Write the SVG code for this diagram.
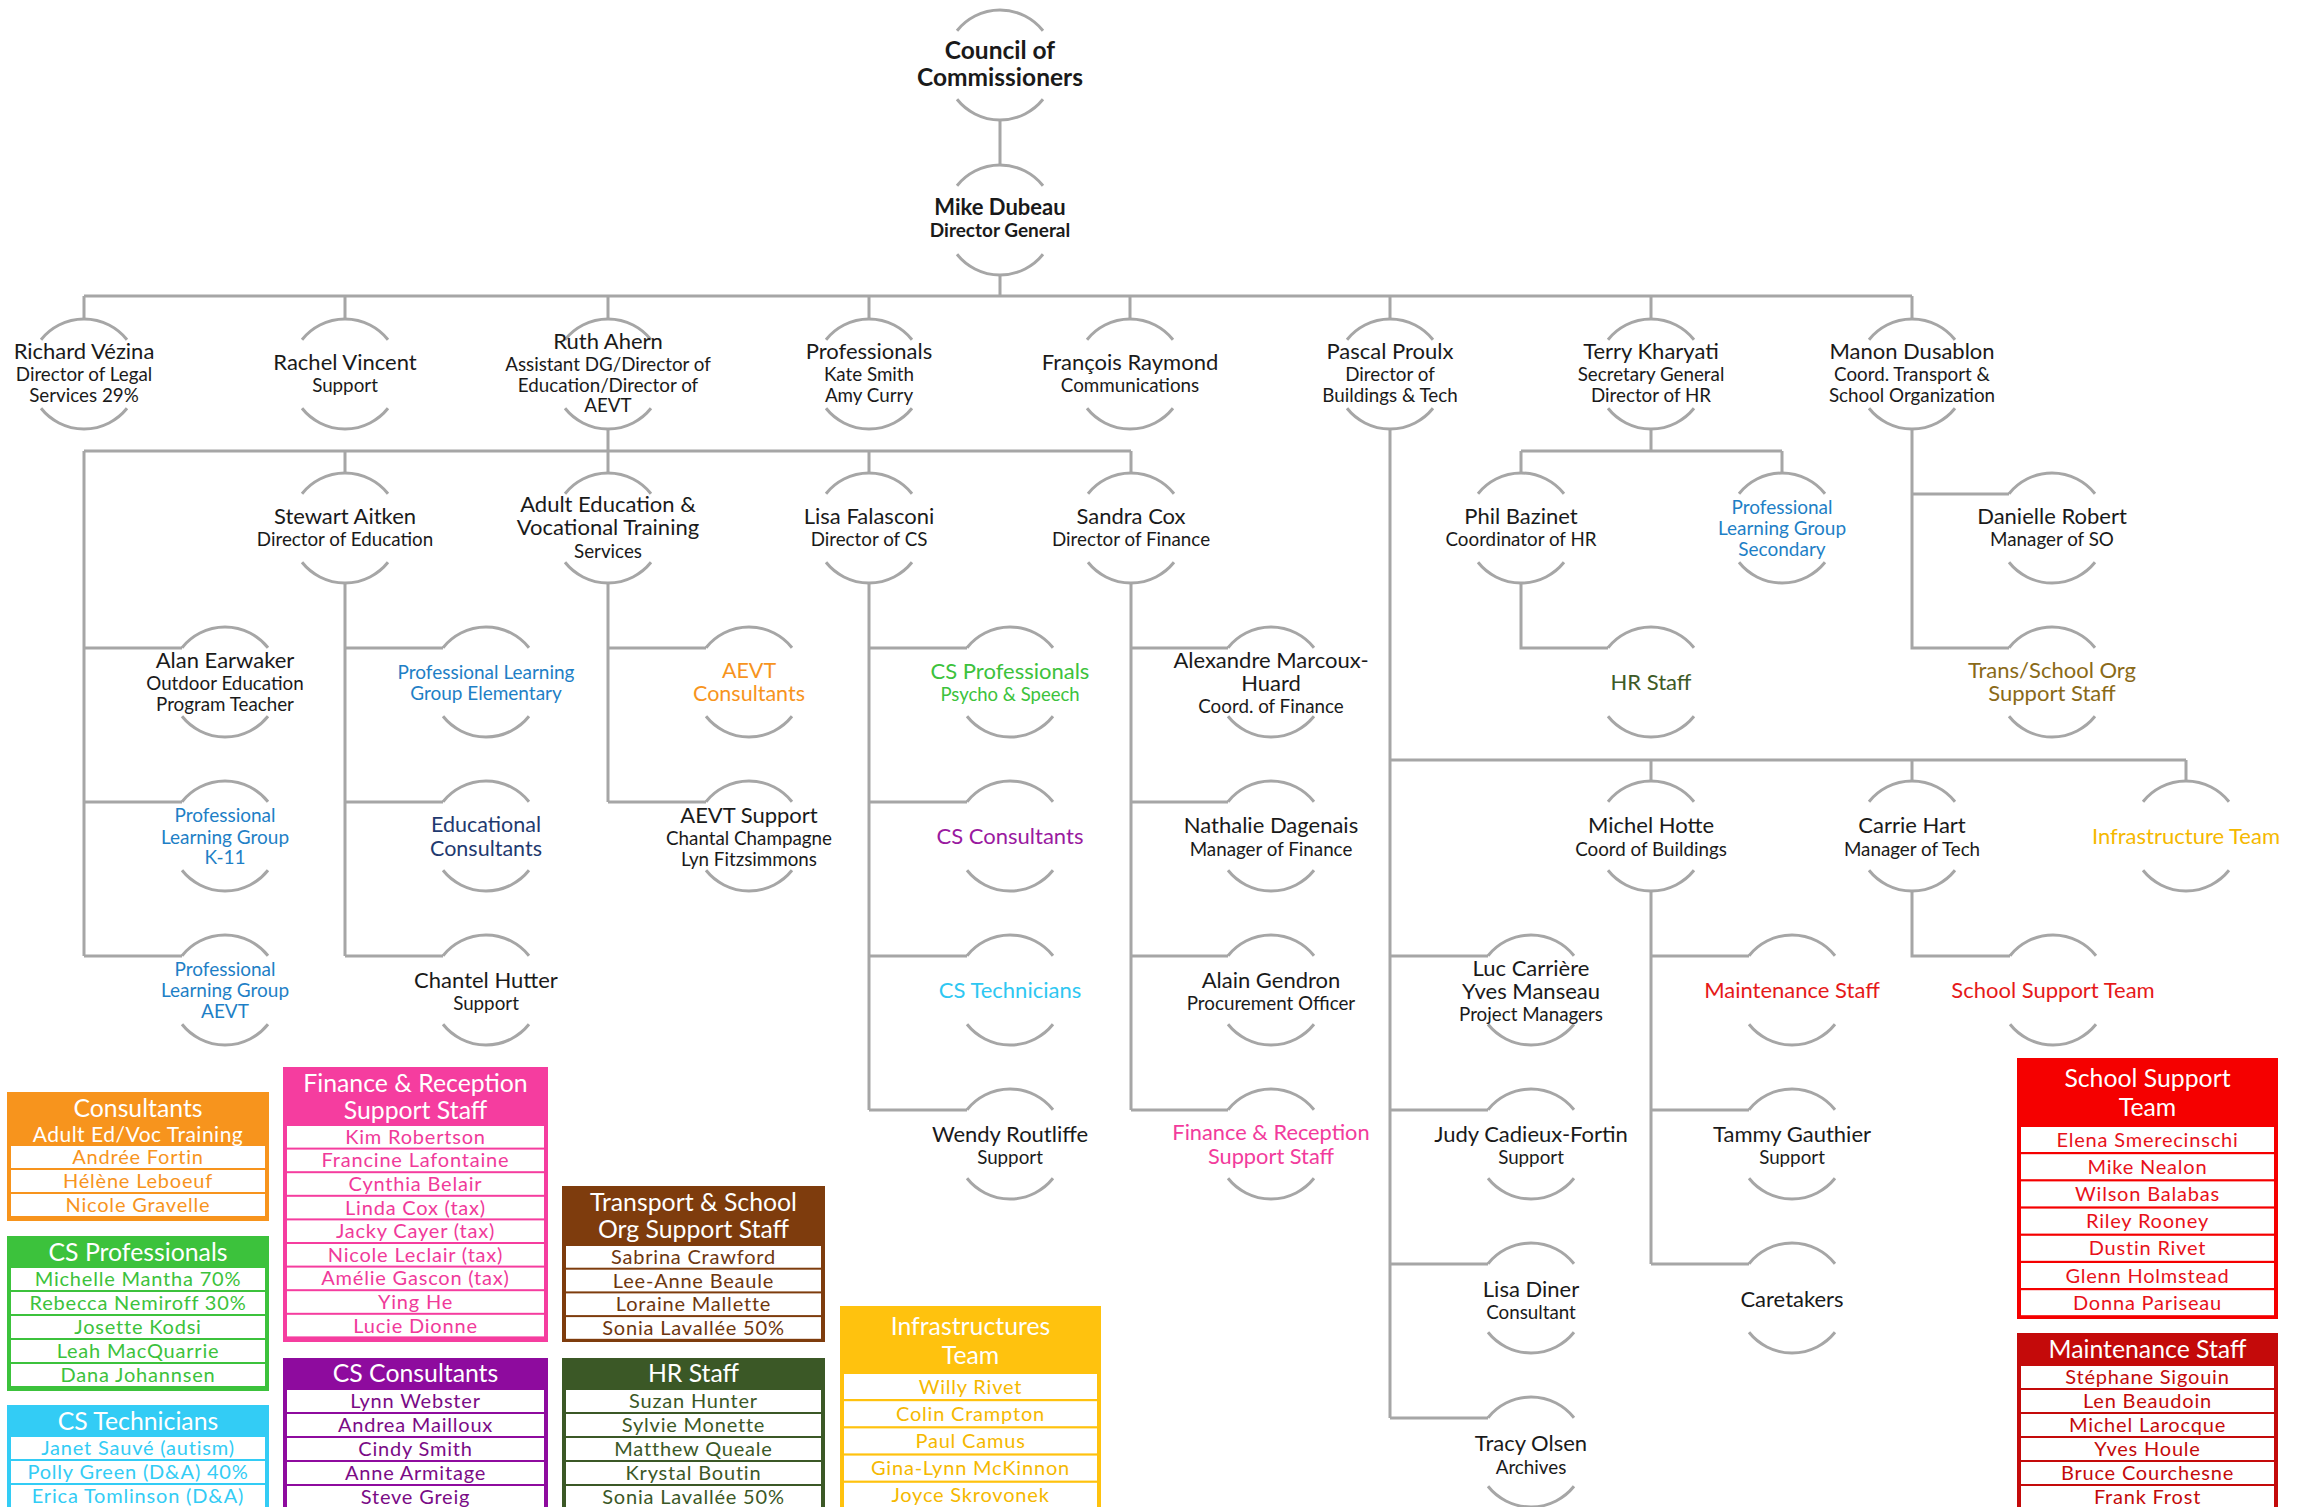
<svg xmlns="http://www.w3.org/2000/svg" width="2302" height="1507" viewBox="0 0 2302 1507">
<style>
.ln{fill:none;stroke:#a6a6a6;stroke-width:3}
text{font-family:Lato,"Open Sans","Liberation Sans",sans-serif;text-anchor:middle;fill:#1a1a1a}
.n{font-size:22px}
.s{font-size:18.8px}
.b1{font-size:24.5px;font-weight:bold}
.b2{font-size:22px;font-weight:bold}
.b3{font-size:19px;font-weight:bold}
.blue{fill:#1e7fc6;font-size:19px}
.navy{fill:#1f3a70;font-size:21.5px}
.orange{fill:#f7941d;font-size:21.5px}
.green{fill:#3cc23c}
.purple{fill:#9a1aa0;font-size:22px}
.cyan{fill:#2ec7f2;font-size:22px}
.pink{fill:#f23b9c;font-size:21.8px}
.hrg{fill:#3d5a27;font-size:22px}
.olive{fill:#8a6a18;font-size:22px}
.yellow{fill:#f5b800;font-size:22px}
.red{fill:#e61919;font-size:22px}
.hd{fill:#fff;font-size:24.8px}
.hd2{fill:#fff;font-size:21px;letter-spacing:0.5px}
.row{fill:#fff}
.r{font-size:20px;letter-spacing:0.8px}
</style>
<defs>
<path id="ring" class="ln" d="M-43,-34.3 A55,55 0 0 1 43,-34.3 M-43,34.3 A55,55 0 0 0 43,34.3"/>
</defs>

<g id="connectors" class="ln">
<path d="M1000 120V165M1000 275V296M84 296H1912"/>
<path d="M84 296V319M345 296V319M608 296V319M869 296V319M1130 296V319M1390 296V319M1651 296V319M1912 296V319"/>
<path d="M608 429V451M84 451H1131M345 451V473M608 451V473M869 451V473M1131 451V473"/>
<path d="M84 451V956M84 648H182M84 802H182M84 956H182"/>
<path d="M345 583V956M345 648H443M345 802H443M345 956H443"/>
<path d="M608 583V802M608 648H706M608 802H706"/>
<path d="M869 583V1110M869 648H967M869 802H967M869 956H967M869 1110H967"/>
<path d="M1131 583V1110M1131 648H1228M1131 802H1228M1131 956H1228M1131 1110H1228"/>
<path d="M1651 429V451M1521 451H1782M1521 451V473M1782 451V473"/>
<path d="M1521 583V648H1608"/>
<path d="M1912 429V648H2009M1912 494H2009"/>
<path d="M1390 429V1418M1390 760H2186M1651 760V781M1912 760V781M2186 760V781"/>
<path d="M1390 956H1488M1390 1110H1488M1390 1264H1488M1390 1418H1488"/>
<path d="M1651 891V1264M1651 956H1749M1651 1110H1749M1651 1264H1749"/>
<path d="M1912 891V956H2010"/>
</g>

<g id="n-council"><use href="#ring" x="1000" y="65"/><text class="b1" x="1000" y="59">Council of</text><text class="b1" x="1000" y="86">Commissioners</text></g>
<g id="n-mike"><use href="#ring" x="1000" y="220"/><text class="b2" x="1000" y="215">Mike Dubeau</text><text class="b3" x="1000" y="237">Director General</text></g>

<g id="n-richard"><use href="#ring" x="84" y="374"/><text class="n" x="84" y="359">Richard Vézina</text><text class="s" x="84" y="381">Director of Legal</text><text class="s" x="84" y="402">Services 29%</text></g>
<g id="n-rachel"><use href="#ring" x="345" y="374"/><text class="n" x="345" y="370">Rachel Vincent</text><text class="s" x="345" y="392">Support</text></g>
<g id="n-ruth"><use href="#ring" x="608" y="374"/><text class="n" x="608" y="349">Ruth Ahern</text><text class="s" x="608" y="371">Assistant DG/Director of</text><text class="s" x="608" y="392">Education/Director of</text><text class="s" x="608" y="412">AEVT</text></g>
<g id="n-professionals"><use href="#ring" x="869" y="374"/><text class="n" x="869" y="359">Professionals</text><text class="s" x="869" y="381">Kate Smith</text><text class="s" x="869" y="402">Amy Curry</text></g>
<g id="n-francois"><use href="#ring" x="1130" y="374"/><text class="n" x="1130" y="370">François Raymond</text><text class="s" x="1130" y="392">Communications</text></g>
<g id="n-pascal"><use href="#ring" x="1390" y="374"/><text class="n" x="1390" y="359">Pascal Proulx</text><text class="s" x="1390" y="381">Director of</text><text class="s" x="1390" y="402">Buildings &amp; Tech</text></g>
<g id="n-terry"><use href="#ring" x="1651" y="374"/><text class="n" x="1651" y="359">Terry Kharyati</text><text class="s" x="1651" y="381">Secretary General</text><text class="s" x="1651" y="402">Director of HR</text></g>
<g id="n-manon"><use href="#ring" x="1912" y="374"/><text class="n" x="1912" y="359">Manon Dusablon</text><text class="s" x="1912" y="381">Coord. Transport &amp;</text><text class="s" x="1912" y="402">School Organization</text></g>

<g id="n-stewart"><use href="#ring" x="345" y="528"/><text class="n" x="345" y="524">Stewart Aitken</text><text class="s" x="345" y="546">Director of Education</text></g>
<g id="n-adulted"><use href="#ring" x="608" y="528"/><text class="n" x="608" y="512">Adult Education &amp;</text><text class="n" x="608" y="535">Vocational Training</text><text class="s" x="608" y="558">Services</text></g>
<g id="n-lisaf"><use href="#ring" x="869" y="528"/><text class="n" x="869" y="524">Lisa Falasconi</text><text class="s" x="869" y="546">Director of CS</text></g>
<g id="n-sandra"><use href="#ring" x="1131" y="528"/><text class="n" x="1131" y="524">Sandra Cox</text><text class="s" x="1131" y="546">Director of Finance</text></g>
<g id="n-phil"><use href="#ring" x="1521" y="528"/><text class="n" x="1521" y="524">Phil Bazinet</text><text class="s" x="1521" y="546">Coordinator of HR</text></g>
<g id="n-plgsec"><use href="#ring" x="1782" y="528"/><text class="blue" x="1782" y="514">Professional</text><text class="blue" x="1782" y="535">Learning Group</text><text class="blue" x="1782" y="556">Secondary</text></g>
<g id="n-danielle"><use href="#ring" x="2052" y="528"/><text class="n" x="2052" y="524">Danielle Robert</text><text class="s" x="2052" y="546">Manager of SO</text></g>

<g id="n-alan"><use href="#ring" x="225" y="682"/><text class="n" x="225" y="668">Alan Earwaker</text><text class="s" x="225" y="690">Outdoor Education</text><text class="s" x="225" y="711">Program Teacher</text></g>
<g id="n-plgelem"><use href="#ring" x="486" y="682"/><text class="blue" x="486" y="679">Professional Learning</text><text class="blue" x="486" y="700">Group Elementary</text></g>
<g id="n-aevtcons"><use href="#ring" x="749" y="682"/><text class="orange" x="749" y="678">AEVT</text><text class="orange" x="749" y="701">Consultants</text></g>
<g id="n-csprof"><use href="#ring" x="1010" y="682"/><text class="green" style="font-size:22px" x="1010" y="679">CS Professionals</text><text class="green" style="font-size:18.5px" x="1010" y="701">Psycho &amp; Speech</text></g>
<g id="n-alexandre"><use href="#ring" x="1271" y="682"/><text class="n" x="1271" y="668">Alexandre Marcoux-</text><text class="n" x="1271" y="691">Huard</text><text class="s" x="1271" y="713">Coord. of Finance</text></g>
<g id="n-hrstaff"><use href="#ring" x="1651" y="682"/><text class="hrg" x="1651" y="690">HR Staff</text></g>
<g id="n-transorg"><use href="#ring" x="2052" y="682"/><text class="olive" x="2052" y="678">Trans/School Org</text><text class="olive" x="2052" y="701">Support Staff</text></g>

<g id="n-plgk11"><use href="#ring" x="225" y="836"/><text class="blue" x="225" y="822">Professional</text><text class="blue" x="225" y="844">Learning Group</text><text class="blue" x="225" y="864">K-11</text></g>
<g id="n-edcons"><use href="#ring" x="486" y="836"/><text class="navy" x="486" y="832">Educational</text><text class="navy" x="486" y="856">Consultants</text></g>
<g id="n-aevtsup"><use href="#ring" x="749" y="836"/><text class="n" x="749" y="823">AEVT Support</text><text class="s" x="749" y="845">Chantal Champagne</text><text class="s" x="749" y="866">Lyn Fitzsimmons</text></g>
<g id="n-cscons"><use href="#ring" x="1010" y="836"/><text class="purple" x="1010" y="844">CS Consultants</text></g>
<g id="n-nathalie"><use href="#ring" x="1271" y="836"/><text class="n" x="1271" y="833">Nathalie Dagenais</text><text class="s" x="1271" y="856">Manager of Finance</text></g>
<g id="n-michel"><use href="#ring" x="1651" y="836"/><text class="n" x="1651" y="833">Michel Hotte</text><text class="s" x="1651" y="856">Coord of Buildings</text></g>
<g id="n-carrie"><use href="#ring" x="1912" y="836"/><text class="n" x="1912" y="833">Carrie Hart</text><text class="s" x="1912" y="856">Manager of Tech</text></g>
<g id="n-infra"><use href="#ring" x="2186" y="836"/><text class="yellow" x="2186" y="844">Infrastructure Team</text></g>

<g id="n-plgaevt"><use href="#ring" x="225" y="990"/><text class="blue" x="225" y="976">Professional</text><text class="blue" x="225" y="997">Learning Group</text><text class="blue" x="225" y="1018">AEVT</text></g>
<g id="n-chantel"><use href="#ring" x="486" y="990"/><text class="n" x="486" y="988">Chantel Hutter</text><text class="s" x="486" y="1010">Support</text></g>
<g id="n-cstech"><use href="#ring" x="1010" y="990"/><text class="cyan" x="1010" y="998">CS Technicians</text></g>
<g id="n-alain"><use href="#ring" x="1271" y="990"/><text class="n" x="1271" y="988">Alain Gendron</text><text class="s" x="1271" y="1010">Procurement Officer</text></g>
<g id="n-luc"><use href="#ring" x="1531" y="990"/><text class="n" x="1531" y="976">Luc Carrière</text><text class="n" x="1531" y="999">Yves Manseau</text><text class="s" x="1531" y="1021">Project Managers</text></g>
<g id="n-maint"><use href="#ring" x="1792" y="990"/><text class="red" x="1792" y="998">Maintenance Staff</text></g>
<g id="n-sst"><use href="#ring" x="2053" y="990"/><text class="red" x="2053" y="998">School Support Team</text></g>

<g id="n-wendy"><use href="#ring" x="1010" y="1144"/><text class="n" x="1010" y="1142">Wendy Routliffe</text><text class="s" x="1010" y="1164">Support</text></g>
<g id="n-finrec"><use href="#ring" x="1271" y="1144"/><text class="pink" x="1271" y="1140">Finance &amp; Reception</text><text class="pink" x="1271" y="1164">Support Staff</text></g>
<g id="n-judy"><use href="#ring" x="1531" y="1144"/><text class="n" x="1531" y="1142">Judy Cadieux-Fortin</text><text class="s" x="1531" y="1164">Support</text></g>
<g id="n-tammy"><use href="#ring" x="1792" y="1144"/><text class="n" x="1792" y="1142">Tammy Gauthier</text><text class="s" x="1792" y="1164">Support</text></g>

<g id="n-lisad"><use href="#ring" x="1531" y="1298"/><text class="n" x="1531" y="1297">Lisa Diner</text><text class="s" x="1531" y="1319">Consultant</text></g>
<g id="n-caretakers"><use href="#ring" x="1792" y="1298"/><text class="n" x="1792" y="1307">Caretakers</text></g>
<g id="n-tracy"><use href="#ring" x="1531" y="1452"/><text class="n" x="1531" y="1451">Tracy Olsen</text><text class="s" x="1531" y="1474">Archives</text></g>

<g id="box-consultants">
<rect x="7" y="1092" width="262" height="129" fill="#f7941d"/>
<text class="hd" x="138" y="1117">Consultants</text>
<text class="hd2" x="138" y="1142">Adult Ed/Voc Training</text>
<rect class="row" x="11" y="1146" width="254" height="22"/><rect class="row" x="11" y="1170" width="254" height="22"/><rect class="row" x="11" y="1194" width="254" height="22"/>
<text class="r" style="fill:#f7941d" x="138" y="1164">Andrée Fortin</text><text class="r" style="fill:#f7941d" x="138" y="1188">Hélène Leboeuf</text><text class="r" style="fill:#f7941d" x="138" y="1212">Nicole Gravelle</text>
</g>

<g id="box-csprof">
<rect x="7" y="1236" width="262" height="155" fill="#3cc23c"/>
<text class="hd" x="138" y="1261">CS Professionals</text>
<rect class="row" x="11" y="1268" width="254" height="22"/><rect class="row" x="11" y="1292" width="254" height="22"/><rect class="row" x="11" y="1316" width="254" height="22"/><rect class="row" x="11" y="1340" width="254" height="22"/><rect class="row" x="11" y="1364" width="254" height="22"/>
<text class="r" style="fill:#3cc23c" x="138" y="1286">Michelle Mantha 70%</text><text class="r" style="fill:#3cc23c" x="138" y="1310">Rebecca Nemiroff 30%</text><text class="r" style="fill:#3cc23c" x="138" y="1334">Josette Kodsi</text><text class="r" style="fill:#3cc23c" x="138" y="1358">Leah MacQuarrie</text><text class="r" style="fill:#3cc23c" x="138" y="1382">Dana Johannsen</text>
</g>

<g id="box-cstech">
<rect x="7" y="1405" width="262" height="115" fill="#33ccf5"/>
<text class="hd" x="138" y="1430">CS Technicians</text>
<rect class="row" x="11" y="1437" width="254" height="22"/><rect class="row" x="11" y="1461" width="254" height="22"/><rect class="row" x="11" y="1485" width="254" height="30"/>
<text class="r" style="fill:#33ccf5" x="138" y="1455">Janet Sauvé (autism)</text><text class="r" style="fill:#33ccf5" x="138" y="1479">Polly Green (D&amp;A) 40%</text><text class="r" style="fill:#33ccf5" x="138" y="1503">Erica Tomlinson (D&amp;A)</text>
</g>

<g id="box-finrec">
<rect x="283" y="1067" width="265" height="275" fill="#f53d9f"/>
<text class="hd" x="415.5" y="1092">Finance &amp; Reception</text>
<text class="hd" x="415.5" y="1119">Support Staff</text>
<rect class="row" x="287" y="1126" width="257" height="21.6"/><rect class="row" x="287" y="1149.6" width="257" height="21.6"/><rect class="row" x="287" y="1173.2" width="257" height="21.6"/><rect class="row" x="287" y="1196.8" width="257" height="21.6"/><rect class="row" x="287" y="1220.4" width="257" height="21.6"/><rect class="row" x="287" y="1244" width="257" height="21.6"/><rect class="row" x="287" y="1267.6" width="257" height="21.6"/><rect class="row" x="287" y="1291.2" width="257" height="21.6"/><rect class="row" x="287" y="1314.8" width="257" height="21.6"/>
<text class="r" style="fill:#f03a9a" x="415.5" y="1143.8">Kim Robertson</text><text class="r" style="fill:#f03a9a" x="415.5" y="1167.4">Francine Lafontaine</text><text class="r" style="fill:#f03a9a" x="415.5" y="1191">Cynthia Belair</text><text class="r" style="fill:#f03a9a" x="415.5" y="1214.6">Linda Cox (tax)</text><text class="r" style="fill:#f03a9a" x="415.5" y="1238.2">Jacky Cayer (tax)</text><text class="r" style="fill:#f03a9a" x="415.5" y="1261.8">Nicole Leclair (tax)</text><text class="r" style="fill:#f03a9a" x="415.5" y="1285.4">Amélie Gascon (tax)</text><text class="r" style="fill:#f03a9a" x="415.5" y="1309">Ying He</text><text class="r" style="fill:#f03a9a" x="415.5" y="1332.6">Lucie Dionne</text>
</g>

<g id="box-cscons">
<rect x="283" y="1358" width="265" height="162" fill="#8e0b9e"/>
<text class="hd" x="415.5" y="1382">CS Consultants</text>
<rect class="row" x="287" y="1390" width="257" height="22"/><rect class="row" x="287" y="1414" width="257" height="22"/><rect class="row" x="287" y="1438" width="257" height="22"/><rect class="row" x="287" y="1462" width="257" height="22"/><rect class="row" x="287" y="1486" width="257" height="30"/>
<text class="r" style="fill:#7a0b86" x="415.5" y="1408">Lynn Webster</text><text class="r" style="fill:#7a0b86" x="415.5" y="1432">Andrea Mailloux</text><text class="r" style="fill:#7a0b86" x="415.5" y="1456">Cindy Smith</text><text class="r" style="fill:#7a0b86" x="415.5" y="1480">Anne Armitage</text><text class="r" style="fill:#7a0b86" x="415.5" y="1504">Steve Greig</text>
</g>

<g id="box-transport">
<rect x="562" y="1186" width="263" height="156" fill="#7e3c0d"/>
<text class="hd" x="693.5" y="1211">Transport &amp; School</text>
<text class="hd" x="693.5" y="1238">Org Support Staff</text>
<rect class="row" x="566" y="1246" width="255" height="21.7"/><rect class="row" x="566" y="1269.7" width="255" height="21.7"/><rect class="row" x="566" y="1293.4" width="255" height="21.7"/><rect class="row" x="566" y="1317.1" width="255" height="21.7"/>
<text class="r" style="fill:#6e360e" x="693.5" y="1263.8">Sabrina Crawford</text><text class="r" style="fill:#6e360e" x="693.5" y="1287.5">Lee-Anne Beaule</text><text class="r" style="fill:#6e360e" x="693.5" y="1311.2">Loraine Mallette</text><text class="r" style="fill:#6e360e" x="693.5" y="1334.9">Sonia Lavallée 50%</text>
</g>

<g id="box-hrstaff">
<rect x="562" y="1358" width="263" height="162" fill="#3b5826"/>
<text class="hd" x="693.5" y="1382">HR Staff</text>
<rect class="row" x="566" y="1390" width="255" height="22"/><rect class="row" x="566" y="1414" width="255" height="22"/><rect class="row" x="566" y="1438" width="255" height="22"/><rect class="row" x="566" y="1462" width="255" height="22"/><rect class="row" x="566" y="1486" width="255" height="30"/>
<text class="r" style="fill:#3b5826" x="693.5" y="1408">Suzan Hunter</text><text class="r" style="fill:#3b5826" x="693.5" y="1432">Sylvie Monette</text><text class="r" style="fill:#3b5826" x="693.5" y="1456">Matthew Queale</text><text class="r" style="fill:#3b5826" x="693.5" y="1480">Krystal Boutin</text><text class="r" style="fill:#3b5826" x="693.5" y="1504">Sonia Lavallée 50%</text>
</g>

<g id="box-infra">
<rect x="840" y="1306" width="261" height="214" fill="#ffc20e"/>
<text class="hd" x="970.5" y="1335">Infrastructures</text>
<text class="hd" x="970.5" y="1364">Team</text>
<rect class="row" x="844" y="1374" width="253" height="25"/><rect class="row" x="844" y="1401.2" width="253" height="25"/><rect class="row" x="844" y="1428.4" width="253" height="25"/><rect class="row" x="844" y="1455.6" width="253" height="25"/><rect class="row" x="844" y="1482.8" width="253" height="30"/>
<text class="r" style="fill:#f5b800" x="970.5" y="1393.5">Willy Rivet</text><text class="r" style="fill:#f5b800" x="970.5" y="1420.7">Colin Crampton</text><text class="r" style="fill:#f5b800" x="970.5" y="1447.9">Paul Camus</text><text class="r" style="fill:#f5b800" x="970.5" y="1475.1">Gina-Lynn McKinnon</text><text class="r" style="fill:#f5b800" x="970.5" y="1502.3">Joyce Skrovonek</text>
</g>

<g id="box-sst">
<rect x="2017" y="1058" width="261" height="261" fill="#f50000"/>
<text class="hd" x="2147.5" y="1087">School Support</text>
<text class="hd" x="2147.5" y="1116">Team</text>
<rect class="row" x="2021" y="1127" width="253" height="25"/><rect class="row" x="2021" y="1154.2" width="253" height="25"/><rect class="row" x="2021" y="1181.4" width="253" height="25"/><rect class="row" x="2021" y="1208.6" width="253" height="25"/><rect class="row" x="2021" y="1235.8" width="253" height="25"/><rect class="row" x="2021" y="1263" width="253" height="25"/><rect class="row" x="2021" y="1290.2" width="253" height="25"/>
<text class="r" style="fill:#e8111a" x="2147.5" y="1146.5">Elena Smerecinschi</text><text class="r" style="fill:#e8111a" x="2147.5" y="1173.7">Mike Nealon</text><text class="r" style="fill:#e8111a" x="2147.5" y="1200.9">Wilson Balabas</text><text class="r" style="fill:#e8111a" x="2147.5" y="1228.1">Riley Rooney</text><text class="r" style="fill:#e8111a" x="2147.5" y="1255.3">Dustin Rivet</text><text class="r" style="fill:#e8111a" x="2147.5" y="1282.5">Glenn Holmstead</text><text class="r" style="fill:#e8111a" x="2147.5" y="1309.7">Donna Pariseau</text>
</g>

<g id="box-maint">
<rect x="2017" y="1333" width="261" height="187" fill="#c40a0a"/>
<text class="hd" x="2147.5" y="1358">Maintenance Staff</text>
<rect class="row" x="2021" y="1366" width="253" height="22"/><rect class="row" x="2021" y="1390" width="253" height="22"/><rect class="row" x="2021" y="1414" width="253" height="22"/><rect class="row" x="2021" y="1438" width="253" height="22"/><rect class="row" x="2021" y="1462" width="253" height="22"/><rect class="row" x="2021" y="1486" width="253" height="30"/>
<text class="r" style="fill:#c40a0a" x="2147.5" y="1384">Stéphane Sigouin</text><text class="r" style="fill:#c40a0a" x="2147.5" y="1408">Len Beaudoin</text><text class="r" style="fill:#c40a0a" x="2147.5" y="1432">Michel Larocque</text><text class="r" style="fill:#c40a0a" x="2147.5" y="1456">Yves Houle</text><text class="r" style="fill:#c40a0a" x="2147.5" y="1480">Bruce Courchesne</text><text class="r" style="fill:#c40a0a" x="2147.5" y="1504">Frank Frost</text>
</g>
</svg>
